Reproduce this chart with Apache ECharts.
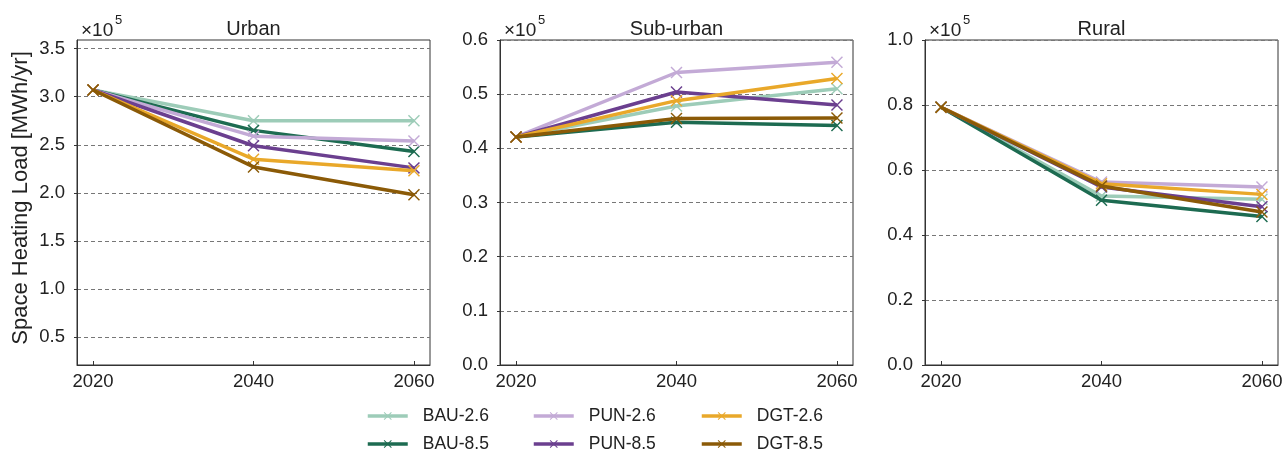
<!DOCTYPE html>
<html>
<head>
<meta charset="utf-8">
<script src="https://cdn.jsdelivr.net/npm/echarts@6/dist/echarts.min.js"></script>
<style>html,body{margin:0;padding:0;background:#fff;}#c{width:1287px;height:454px;}</style>
</head>
<body>
<div id="c"></div>
<script>
// ---- data ----
var years = [2020, 2040, 2060];
var xTicks = [2020, 2040, 2060];
var seriesNames = ['BAU-2.6', 'BAU-8.5', 'PUN-2.6', 'PUN-8.5', 'DGT-2.6', 'DGT-8.5'];
var panelTitles = ['Urban', 'Sub-urban', 'Rural'];

var urbanBAU26 = [307000, 275000, 275000];
var urbanBAU85 = [307000, 265000, 243000];
var urbanPUN26 = [307000, 259000, 254000];
var urbanPUN85 = [307000, 249000, 226000];
var urbanDGT26 = [307000, 235000, 223000];
var urbanDGT85 = [307000, 227000, 198000];

var subBAU26 = [42100, 47800, 51000];
var subBAU85 = [42100, 44800, 44200];
var subPUN26 = [42100, 54000, 55900];
var subPUN85 = [42100, 50400, 48000];
var subDGT26 = [42100, 48800, 52900];
var subDGT85 = [42100, 45500, 45600];

var ruralBAU26 = [79300, 52000, 51000];
var ruralBAU85 = [79300, 50700, 45700];
var ruralPUN26 = [79300, 56300, 54800];
var ruralPUN85 = [79300, 54800, 48700];
var ruralDGT26 = [79300, 55800, 52500];
var ruralDGT85 = [79300, 55100, 47100];

var urbanTicks = [50000, 100000, 150000, 200000, 250000, 300000, 350000];
var subTicks = [0, 10000, 20000, 30000, 40000, 50000, 60000];
var ruralTicks = [0, 20000, 40000, 60000, 80000, 100000];

// ---- styling ----
var colors = ['#9dccb8', '#1d6b51', '#c3aad6', '#6b3f8f', '#e9a82a', '#8b5a07'];
var FONT = "'Liberation Sans', Arial, sans-serif";
var XPATH = 'path://M0,1.7 L1.7,0 L10,8.3 L18.3,0 L20,1.7 L11.7,10 L20,18.3 L18.3,20 L10,11.7 L1.7,20 L0,18.3 L8.3,10 Z';

var panelData = [
  [urbanBAU26, urbanBAU85, urbanPUN26, urbanPUN85, urbanDGT26, urbanDGT85],
  [subBAU26, subBAU85, subPUN26, subPUN85, subDGT26, subDGT85],
  [ruralBAU26, ruralBAU85, ruralPUN26, ruralPUN85, ruralDGT26, ruralDGT85]
];
var panelTicks = [urbanTicks, subTicks, ruralTicks];
var yRanges = [[21000, 359000], [0, 60000], [0, 100000]];
var gridLefts = [77, 500, 925];
var gridWidth = 353;
var TICKFS = 18.5;

var grids = [], xAxes = [], yAxes = [], series = [], graphics = [];
for (var p = 0; p < 3; p++) {
  grids.push({left: gridLefts[p], top: 40, width: gridWidth, height: 325,
    show: true, borderColor: '#333', borderWidth: 1, backgroundColor: 'transparent'});
  xAxes.push({type: 'value', gridIndex: p, min: 2018, max: 2062,
    axisLine: {show: true, onZero: false, lineStyle: {color: '#333', width: 1}},
    axisTick: {show: true, inside: true, length: 4, customValues: xTicks, lineStyle: {color: '#333'}},
    axisLabel: {customValues: xTicks, color: '#222', fontSize: TICKFS, fontFamily: FONT, margin: 7,
      formatter: function (v) { return String(v); }},
    splitLine: {show: false}});
  (function (ticks) {
    yAxes.push({type: 'value', gridIndex: p, min: yRanges[p][0], max: yRanges[p][1],
      axisLine: {show: true, lineStyle: {color: '#333', width: 1}},
      axisTick: {show: true, length: 3, customValues: ticks, lineStyle: {color: '#333'}},
      axisLabel: {customValues: ticks, color: '#222', fontSize: TICKFS, fontFamily: FONT, margin: 12,
        formatter: function (v) { return (v / 1e5).toFixed(1); }},
      splitLine: {show: true, lineStyle: {color: '#777', type: [4, 3], width: 1}}});
  })(panelTicks[p]);
  for (var s = 0; s < 6; s++) {
    var pts = [];
    for (var i = 0; i < years.length; i++) pts.push([years[i], panelData[p][s][i]]);
    series.push({name: seriesNames[s], type: 'line', xAxisIndex: p, yAxisIndex: p, data: pts,
      symbol: XPATH, symbolSize: 12, showSymbol: true,
      itemStyle: {color: colors[s]},
      lineStyle: {color: colors[s], width: 3.5},
      emphasis: {disabled: true}, animation: false, z: 2 + s});
  }
  graphics.push({type: 'text', x: gridLefts[p] + gridWidth / 2, y: 39,
    style: {text: panelTitles[p], font: '20px ' + FONT, fill: '#222', align: 'center', verticalAlign: 'bottom'}});
  graphics.push({type: 'text', x: gridLefts[p] + 4, y: 40,
    style: {text: '×10', font: '19px ' + FONT, fill: '#222', align: 'left', verticalAlign: 'bottom'}});
  graphics.push({type: 'text', x: gridLefts[p] + 38, y: 27,
    style: {text: '5', font: '13px ' + FONT, fill: '#222', align: 'left', verticalAlign: 'bottom'}});
}
graphics.push({type: 'text', x: 21, y: 198, rotation: Math.PI / 2,
  style: {text: 'Space Heating Load [MWh/yr]', font: '22px ' + FONT, fill: '#222',
    align: 'center', verticalAlign: 'middle'}});

var legendLefts = [366, 366, 532, 532, 700, 700];
var legendTops = [407, 435, 407, 435, 407, 435];
var legends = seriesNames.map(function (nm, k) {
  return {data: [nm], orient: 'horizontal', left: legendLefts[k], top: legendTops[k], itemWidth: 40, itemHeight: 10,
    selectedMode: false, padding: 0,
    lineStyle: {width: 3.5},
    textStyle: {fontSize: 17.5, fontFamily: FONT, color: '#222', padding: [0, 0, 0, 10]}};
});

var chart = echarts.init(document.getElementById('c'), null, {renderer: 'canvas'});
chart.setOption({
  animation: false,
  backgroundColor: '#fff',
  grid: grids, xAxis: xAxes, yAxis: yAxes, series: series,
  legend: legends, graphic: graphics
});
</script>
</body>
</html>
